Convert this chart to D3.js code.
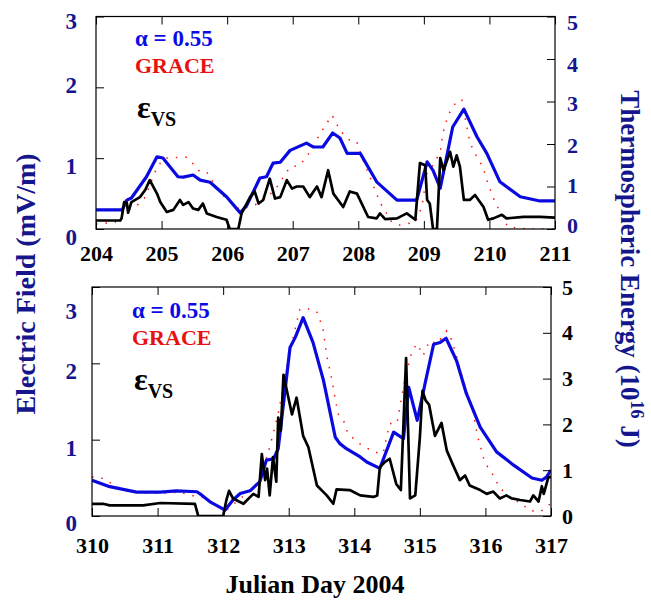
<!DOCTYPE html>
<html>
<head>
<meta charset="utf-8">
<script src="https://cdn.jsdelivr.net/npm/d3@7"></script>
<style>
body { margin: 0; background: white; }
text { font-family: "Liberation Serif", "Times New Roman", serif; font-weight: bold; }
</style>
</head>
<body>
<div id="chart"></div>
<script>
//values: [julian day, value]
//blue = model alpha 0.55 (energy), red = GRACE (energy), black = eps_VS (mV/m)
let topModel = [[204.00,0.45],[204.40,0.45],[204.47,0.68],[204.54,0.73],[204.77,1.23],[204.93,1.70],[205.02,1.67],[205.25,1.23],[205.33,1.22],[205.48,1.27],[205.59,1.15],[205.74,1.10],[205.99,0.76],[206.20,0.38],[206.30,0.56],[206.50,1.20],[206.60,1.23],[206.70,1.55],[206.81,1.57],[206.96,1.85],[207.21,2.02],[207.31,1.93],[207.46,1.93],[207.61,2.26],[207.72,2.14],[207.83,1.78],[208.03,1.78],[208.28,1.11],[208.59,0.68],[208.89,0.68],[209.05,1.58],[209.14,1.38],[209.25,0.96],[209.44,2.40],[209.61,2.82],[209.81,2.17],[209.96,1.78],[210.16,1.11],[210.47,0.76],[210.77,0.66],[211.00,0.66]];

let topGrace = [[204.00,0.12],[204.29,0.16],[204.44,0.40],[204.63,0.56],[204.75,0.75],[204.93,1.46],[205.05,1.67],[205.39,1.69],[205.59,1.34],[205.69,1.34],[205.89,0.85],[206.20,0.45],[206.50,0.61],[206.73,0.92],[206.96,1.46],[207.11,1.50],[207.26,1.81],[207.42,2.25],[207.60,2.68],[207.72,2.32],[207.90,2.04],[207.98,2.04],[208.06,1.67],[208.21,1.10],[208.33,0.63],[208.51,0.16],[208.64,0.09],[208.87,0.16],[208.97,0.52],[209.05,1.34],[209.12,1.46],[209.25,1.81],[209.29,2.25],[209.37,2.68],[209.51,3.03],[209.58,3.03],[209.70,2.04],[209.81,1.69],[209.90,1.46],[209.96,1.15],[210.09,0.61],[210.21,0.28],[210.28,0.05],[210.57,0.00],[211.00,0.00]];

let topField = [[204.00,0.12],[204.37,0.12],[204.39,0.15],[204.43,0.38],[204.47,0.37],[204.49,0.23],[204.54,0.38],[204.67,0.45],[204.75,0.55],[204.82,0.69],[204.93,0.50],[204.98,0.38],[205.08,0.24],[205.18,0.27],[205.28,0.41],[205.33,0.34],[205.41,0.38],[205.48,0.29],[205.56,0.27],[205.63,0.36],[205.69,0.22],[205.84,0.17],[205.99,0.13],[206.04,0.00],[206.17,0.00],[206.22,0.22],[206.35,0.45],[206.42,0.53],[206.48,0.36],[206.55,0.41],[206.65,0.71],[206.73,0.43],[206.81,0.45],[206.91,0.69],[206.99,0.57],[207.06,0.60],[207.16,0.60],[207.26,0.45],[207.37,0.60],[207.44,0.45],[207.54,0.83],[207.62,0.50],[207.77,0.31],[207.87,0.53],[207.98,0.50],[208.15,0.17],[208.28,0.15],[208.33,0.22],[208.41,0.14],[208.59,0.15],[208.74,0.22],[208.87,0.13],[208.94,0.93],[209.02,0.90],[209.05,0.41],[209.09,0.36],[209.14,0.00],[209.20,0.00],[209.25,1.00],[209.30,0.83],[209.40,1.09],[209.45,0.88],[209.50,1.04],[209.55,0.88],[209.61,0.41],[209.70,0.41],[209.78,0.48],[209.91,0.31],[209.98,0.13],[210.06,0.15],[210.19,0.20],[210.26,0.15],[210.52,0.17],[210.77,0.17],[211.00,0.16]];

let bottomModel = [[310.00,0.78],[310.27,0.64],[310.68,0.52],[311.04,0.52],[311.29,0.55],[311.60,0.53],[311.67,0.46],[311.80,0.31],[312.03,0.13],[312.15,0.35],[312.26,0.49],[312.41,0.55],[312.56,0.75],[312.66,1.22],[312.77,1.25],[312.84,1.47],[312.92,2.45],[313.02,3.68],[313.10,3.90],[313.22,4.33],[313.37,3.79],[313.53,2.96],[313.71,1.72],[313.78,1.58],[313.88,1.47],[314.09,1.29],[314.19,1.18],[314.39,1.04],[314.60,1.83],[314.75,1.69],[314.83,2.81],[314.96,2.09],[315.10,3.03],[315.21,3.75],[315.31,3.79],[315.40,3.88],[315.56,3.39],[315.71,2.67],[315.92,1.94],[316.17,1.40],[316.43,1.11],[316.71,0.83],[316.86,0.78],[316.93,0.85],[317.00,1.00]];

let bottomGrace = [[310.00,0.85],[310.12,0.85],[310.50,0.55],[310.78,0.50],[311.11,0.50],[311.34,0.52],[311.57,0.43],[311.72,0.40],[311.91,0.20],[312.07,0.15],[312.36,0.50],[312.56,0.78],[312.71,1.50],[312.84,2.24],[313.02,3.61],[313.17,4.52],[313.36,4.52],[313.43,4.45],[313.52,4.11],[313.58,3.50],[313.66,2.96],[313.75,2.24],[313.86,2.02],[313.90,1.80],[314.07,1.59],[314.30,1.39],[314.44,1.37],[314.54,2.02],[314.65,2.02],[314.70,2.41],[314.77,2.96],[314.88,3.61],[314.96,3.76],[315.05,3.50],[315.15,3.83],[315.26,3.76],[315.41,4.04],[315.49,3.83],[315.58,3.39],[315.66,2.96],[315.80,2.37],[315.87,1.80],[315.99,1.17],[316.12,0.89],[316.22,0.61],[316.42,0.35],[316.56,0.28],[316.65,0.13],[316.83,0.09],[316.95,0.20],[317.00,0.30]];

let bottomField = [[310.00,0.16],[310.17,0.16],[310.27,0.14],[310.78,0.14],[311.04,0.17],[311.57,0.16],[311.62,0.00],[312.00,0.00],[312.05,0.21],[312.09,0.33],[312.15,0.23],[312.31,0.16],[312.46,0.29],[312.54,0.25],[312.59,0.81],[312.64,0.47],[312.67,0.62],[312.71,0.27],[312.76,0.77],[312.81,0.45],[312.84,1.29],[312.88,1.12],[312.92,1.85],[313.05,1.33],[313.12,1.55],[313.22,1.05],[313.30,0.90],[313.43,0.40],[313.58,0.27],[313.68,0.16],[313.73,0.35],[313.93,0.34],[314.09,0.27],[314.29,0.25],[314.35,0.27],[314.39,0.64],[314.47,0.71],[314.54,0.75],[314.64,0.42],[314.71,0.34],[314.79,2.07],[314.85,0.23],[314.93,0.27],[314.98,0.81],[315.00,1.03],[315.04,1.64],[315.09,1.51],[315.14,1.46],[315.23,1.05],[315.33,1.22],[315.41,0.86],[315.51,0.66],[315.61,0.47],[315.69,0.53],[315.76,0.40],[315.92,0.34],[316.02,0.29],[316.12,0.32],[316.22,0.23],[316.32,0.27],[316.40,0.23],[316.53,0.21],[316.68,0.19],[316.73,0.27],[316.81,0.19],[316.86,0.39],[316.89,0.29],[316.96,0.51],[317.00,0.51]];

//tick labels
let topDays = [204, 205, 206, 207, 208, 209, 210, 211];
let bottomDays = [310, 311, 312, 313, 314, 315, 316, 317];
let fieldTicks = [0, 1, 2, 3];
let energyTicks = [0, 1, 2, 3, 4, 5];

let navy = "#16168c";

let svg = d3.select("#chart")
            .append("svg")
                .attr("width", 651)
                .attr("height", 602)
                .style("background-color", "white")
;

function drawPanel(p){
    let x = d3.scaleLinear().domain([p.days[0], p.days[p.days.length-1]]).range([p.left, p.right]);
    let yField = d3.scaleLinear().domain([0, 3]).range([p.bottom, p.top]);
    let yEnergy = d3.scaleLinear().domain([0, 5]).range([p.bottom, p.top]);

    svg.append("clipPath").attr("id", p.id + "-clip")
        .append("rect")
            .attr("x", p.left).attr("y", p.top)
            .attr("width", p.right - p.left).attr("height", p.bottom - p.top);

    let plot = svg.append("g").attr("clip-path", "url(#" + p.id + "-clip)");

    let energyLine = d3.line().x(d => x(d[0])).y(d => yEnergy(d[1]));
    let fieldLine = d3.line().x(d => x(d[0])).y(d => yField(d[1]));

    plot.append("path").datum(p.grace)
        .attr("d", energyLine)
        .attr("fill", "none")
        .attr("stroke", "#ff1010")
        .attr("stroke-width", 1.5)
        .attr("stroke-dasharray", "1.5 8");

    plot.append("path").datum(p.model)
        .attr("d", energyLine)
        .attr("fill", "none")
        .attr("stroke", "#0a0ae0")
        .attr("stroke-width", 3.2)
        .attr("stroke-linejoin", "round");

    plot.append("path").datum(p.field)
        .attr("d", fieldLine)
        .attr("fill", "none")
        .attr("stroke", "black")
        .attr("stroke-width", 2.7)
        .attr("stroke-linejoin", "round");

    let minorDays = d3.range(p.days[0], p.days[p.days.length-1] + 0.01, 0.2);
    let minorField = d3.range(0, 3.001, 0.1);
    let minorEnergy = d3.range(0, 5.001, 0.2);
    let fmt = d3.format("d");

    function styleLabels(g, color, size){
        g.selectAll(".domain").remove();
        g.attr("font-family", "Liberation Serif, serif")
         .attr("font-size", size)
         .attr("font-weight", "bold");
        g.selectAll("text").attr("fill", color);
    }

    //bottom axis
    let gb = svg.append("g").attr("transform", "translate(0," + p.bottom + ")");
    gb.call(d3.axisBottom(x).tickValues(minorDays).tickSize(-4).tickFormat(""));
    gb.call(d3.axisBottom(x).tickValues(p.days).tickSize(-8).tickSizeOuter(0).tickPadding(p.xPad).tickFormat(fmt));
    styleLabels(gb, "black", 22);

    //top axis
    let gt = svg.append("g").attr("transform", "translate(0," + p.top + ")");
    gt.call(d3.axisTop(x).tickValues(minorDays).tickSize(-4).tickFormat(""));
    gt.call(d3.axisTop(x).tickValues(p.days).tickSize(-8).tickSizeOuter(0).tickFormat(""));
    styleLabels(gt, "black", 22);

    //left axis
    let gl = svg.append("g").attr("transform", "translate(" + p.left + ",0)");
    gl.call(d3.axisLeft(yField).tickValues(minorField).tickSize(-4).tickFormat(""));
    gl.call(d3.axisLeft(yField).tickValues(fieldTicks).tickSize(-8).tickSizeOuter(0).tickPadding(p.leftPad).tickFormat(fmt));
    styleLabels(gl, navy, 23);
    gl.selectAll(".tick text").attr("transform", d => "translate(0," + (p.leftShift[d] || 0) + ")");

    //right axis
    let gr = svg.append("g").attr("transform", "translate(" + p.right + ",0)");
    gr.call(d3.axisRight(yEnergy).tickValues(minorEnergy).tickSize(-4).tickFormat(""));
    gr.call(d3.axisRight(yEnergy).tickValues(energyTicks).tickSize(-8).tickSizeOuter(0).tickPadding(p.rightPad).tickFormat(fmt));
    styleLabels(gr, p.rightColor, 22);
    gr.selectAll(".tick text").attr("transform", d => "translate(0," + (p.rightShift[d] || 0) + ")");

    //frame
    svg.append("rect")
        .attr("x", p.left).attr("y", p.top)
        .attr("width", p.right - p.left).attr("height", p.bottom - p.top)
        .attr("fill", "none")
        .attr("stroke", "black")
        .attr("stroke-width", 1.2);

    //legend
    svg.append("text").attr("x", p.legendX).attr("y", p.legendY)
        .attr("font-size", 23).attr("fill", "#0a0ae6")
        .text("\u03b1 = 0.55");
    svg.append("text").attr("x", p.legendX).attr("y", p.legendY + 27)
        .attr("font-size", 22).attr("fill", "#e81010")
        .text("GRACE");
    let eps = svg.append("text").attr("x", p.legendX + 2).attr("y", p.legendY + 72)
        .attr("fill", "black");
    eps.append("tspan").attr("font-size", 32).text("\u03b5");
    eps.append("tspan").attr("font-size", 20).attr("dy", 8).text("VS");
}

drawPanel({
    id: "top", days: topDays,
    left: 96, right: 555, top: 16.5, bottom: 229,
    model: topModel, grace: topGrace, field: topField,
    xPad: 16, leftPad: 19, rightPad: 12,
    leftShift: {0: 8, 1: 8, 2: -2, 3: 5},
    rightShift: {0: -4, 1: -1, 2: 1, 3: 2, 4: 5, 5: 6},
    rightColor: navy,
    legendX: 135, legendY: 46
});

drawPanel({
    id: "bottom", days: bottomDays,
    left: 92, right: 551, top: 287, bottom: 516,
    model: bottomModel, grace: bottomGrace, field: bottomField,
    xPad: 21, leftPad: 15, rightPad: 11,
    leftShift: {0: 7, 1: 8, 2: 8, 3: 24},
    rightShift: {},
    rightColor: "black",
    legendX: 132, legendY: 318
});

//axis titles
svg.append("text")
    .attr("transform", "translate(35,284) rotate(-90)")
    .attr("text-anchor", "middle")
    .attr("font-size", 28)
    .attr("fill", navy)
    .text("Electric Field (mV/m)");

let rightTitle = svg.append("text")
    .attr("transform", "translate(621,269) rotate(90)")
    .attr("text-anchor", "middle")
    .attr("font-size", 27)
    .attr("fill", navy);
rightTitle.append("tspan").text("Thermospheric Energy (10");
rightTitle.append("tspan").attr("font-size", 18).attr("dy", -10).text("16");
rightTitle.append("tspan").attr("dy", 10).text(" J)");

svg.append("text")
    .attr("x", 315).attr("y", 593)
    .attr("text-anchor", "middle")
    .attr("font-size", 26)
    .attr("fill", "black")
    .text("Julian Day 2004");
</script>
</body>
</html>
